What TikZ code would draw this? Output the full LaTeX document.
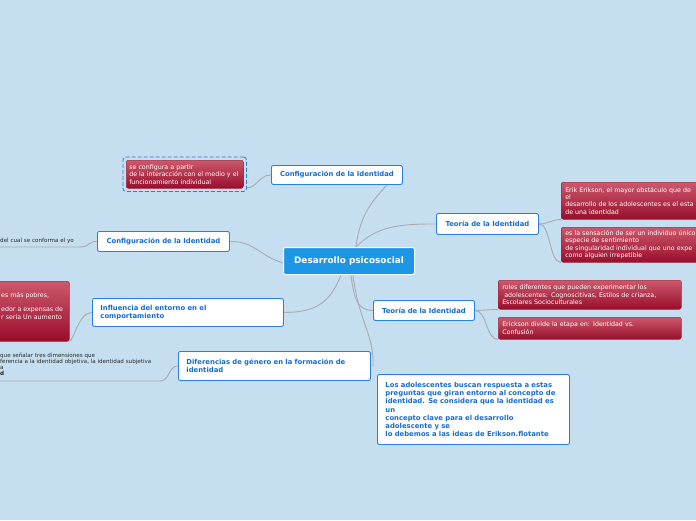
\documentclass[tikz,border=0pt]{standalone}
\usepackage{fontspec}
\setmainfont{DejaVu Sans}
\usetikzlibrary{fit}
\definecolor{bg}{RGB}{197,222,240}
\definecolor{tborder}{RGB}{40,128,220}
\definecolor{ttext}{RGB}{22,108,205}
\definecolor{cfill}{RGB}{30,150,230}
\definecolor{rtop}{RGB}{205,88,108}
\definecolor{rbot}{RGB}{152,14,44}
\definecolor{rdraw}{RGB}{165,40,62}
\definecolor{conn}{RGB}{168,172,178}
\definecolor{dtext}{RGB}{40,40,40}
\pgfdeclarelayer{bgfill}
\pgfdeclarelayer{edges}
\pgfsetlayers{bgfill,edges,main}
\tikzset{
  topic/.style={draw=tborder, line width=0.9pt, fill=white, rounded corners=2pt,
    text=ttext, font=\fontsize{6.85}{8.4}\selectfont\bfseries, anchor=north west,
    inner xsep=8pt, inner ysep=0pt, align=left},
  central/.style={draw=white, line width=1pt, fill=cfill, rounded corners=2pt,
    text=white, font=\fontsize{8.9}{10}\selectfont\bfseries, anchor=north west,
    inner sep=0pt, align=center},
  redbox/.style={draw=rdraw, line width=0.5pt, top color=rtop, bottom color=rbot,
    rounded corners=2pt, text=white, font=\fontsize{6.3}{7.4}\selectfont,
    anchor=north west, inner xsep=4pt, inner ysep=0pt, align=left},
  redtext/.style={text=white, font=\fontsize{6.3}{7.8}\selectfont,
    anchor=north west, inner sep=0pt, align=left},
  conn/.style={draw=conn, line width=0.9pt},
  small/.style={text=dtext, font=\fontsize{5.6}{6.1}\selectfont, anchor=north west,
    inner sep=0pt, align=left}
}
\begin{document}
\begin{tikzpicture}[x=1pt,y=-1pt]
\begin{pgfonlayer}{bgfill}
\fill[bg] (0,0) rectangle (696,520);
\end{pgfonlayer}
\useasboundingbox (0,0) rectangle (696,520);

% nodes
\node[central, minimum width=131pt, minimum height=27pt] (cen) at (283,247) {Desarrollo psicosocial};
\node[topic, minimum width=131pt, minimum height=19pt, text width=115pt, align=center] (c1) at (271,165) {Configuración de la Identidad};
\node[topic, minimum width=132pt, minimum height=20pt, text width=116pt, align=center] (c2) at (97,231) {Configuración de la Identidad};
\node[topic, minimum width=191pt, minimum height=28pt, text width=175pt] (inf) at (92,298) {Influencia del entorno en el\\comportamiento};
\node[topic, minimum width=192pt, minimum height=29pt, text width=176pt] (dif) at (178,351) {Diferencias de género en la formación de\\identidad};
\node[topic, minimum width=102pt, minimum height=21pt, text width=86pt, align=center] (t1) at (436,213) {Teoría de la Identidad};
\node[topic, minimum width=101pt, minimum height=20pt, text width=85pt, align=center] (t2) at (373,300) {Teoría de la Identidad};
\node[topic, minimum width=192pt, minimum height=70pt, text width=176pt, font=\fontsize{6.85}{8.2}\selectfont\bfseries] (flo) at (377,374) {Los adolescentes buscan respuesta a estas\\preguntas que giran entorno al concepto de\\identidad. Se considera que la identidad es\\un\\concepto clave para el desarrollo\\adolescente y se\\lo debemos a las ideas de Erikson.flotante};

% red boxes
\node[redbox, minimum width=117pt, minimum height=28pt, text width=115pt, inner xsep=1pt] (r1) at (126,160) {\hspace*{2pt}se configura a partir\\\hspace*{2pt}de la interacción con el medio y el\\\hspace*{2pt}funcionamiento individual};
\node[fit=(r1), inner sep=3pt, draw=tborder, dash pattern=on 4pt off 2pt, line width=0.8pt, rounded corners=3pt] (r1sel) {};

\node[redbox, minimum width=89pt, minimum height=60pt] (rl) at (-20,281) {};
\node[redtext] (rltext) at (1,292.2) {es más pobres,\\[6pt]edor a expensas de\\[0.5pt]r sería Un aumento};

\node[redbox, minimum width=150pt, minimum height=37pt, text width=142pt] (ra) at (561,182) {Erik Erikson, el mayor obstáculo que de\\el\\desarrollo de los adolescentes es el esta\\de una identidad};
\node[redbox, minimum width=150pt, minimum height=35pt, text width=142pt] (rb) at (561,227) {es la sensación de ser un individuo único\\especie de sentimiento\\de singularidad individual que uno expe\\como alguien irrepetible};
\node[redbox, minimum width=183pt, minimum height=29pt, text width=175pt] (rc) at (498,280) {roles diferentes que pueden experimentar los\\\ adolescentes: Cognoscitivas, Estilos de crianza,\\Escolares Socioculturales};
\node[redbox, minimum width=183pt, minimum height=22pt, text width=175pt] (rd) at (498,317) {Erickson divide la etapa en: Identidad vs.\\Confusión};

% plain texts
\node[small] (yo) at (0,238) {del cual se conforma el yo};
\coordinate (yoend) at (0,247);
\node[small] (dtx) at (0,352.5) {que señalar tres dimensiones que\\ferencia a la identidad objetiva, la identidad subjetiva\\a\\\textbf{d}};
\coordinate (dtend) at (0,381);

% connectors
\begin{pgfonlayer}{edges}
\draw[conn] ([xshift=7pt]cen.north) .. controls +(4,-35) and +(-12,14) .. ([xshift=50pt]c1.south);
\draw[conn] ([xshift=7pt]cen.north) .. controls +(20,-20) and +(-40,0) .. (t1.west);
\draw[conn] ([yshift=-2pt]cen.west) .. controls +(-25,-8) and +(25,0) .. (c2.east);
\draw[conn] ([xshift=-8pt]cen.south) .. controls +(-10,25) and +(35,0) .. (inf.east);
\draw[conn] ([xshift=2pt]cen.south) .. controls +(3,25) and +(-15,0) .. (t2.west);
\draw[conn] ([xshift=4pt]cen.south) .. controls +(5,45) and +(2,-30) .. ([xshift=2pt]dif.east);
\draw[conn] (c1.west) .. controls +(-12,0) and +(10,0) .. ([yshift=4pt]r1sel.south east);
\draw[conn] (c2.west) .. controls +(-10,0) and +(10,0) .. ([xshift=80pt]yoend) -- (yoend);
\draw[conn] (inf.west) .. controls +(-14,0) and +(6,0) .. ([xshift=-1pt]rl.south east);
\draw[conn] (dif.west) .. controls +(-10,0) and +(10,0) .. ([xshift=160pt]dtend) -- (dtend);
\draw[conn] (t1.east) .. controls +(10,0) and +(-10,0) .. (ra.south west);
\draw[conn] (t1.east) .. controls +(12,0) and +(-12,0) .. (rb.south west);
\draw[conn] (t2.east) .. controls +(10,0) and +(-10,0) .. (rc.south west);
\draw[conn] (t2.east) .. controls +(12,0) and +(-12,0) .. (rd.south west);
\end{pgfonlayer}
\end{tikzpicture}
\end{document}
